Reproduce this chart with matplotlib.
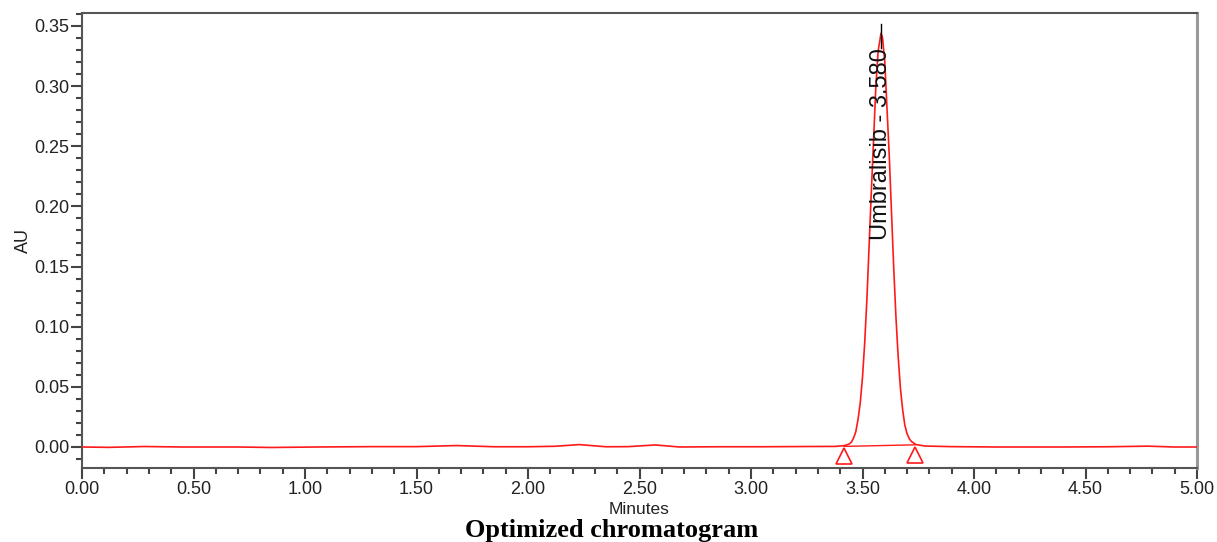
import matplotlib
matplotlib.use("Agg")
import matplotlib.pyplot as plt
from matplotlib.ticker import MultipleLocator, FormatStrFormatter

# --- data ---
time_min = [0.00, 0.12, 0.28, 0.45, 0.70, 0.85, 1.05, 1.30, 1.50, 1.68, 1.85,
            2.00, 2.12, 2.23, 2.35, 2.45, 2.57, 2.68, 2.85, 3.05, 3.25, 3.38,
            3.42, 3.44, 3.45, 3.46, 3.47, 3.48, 3.49, 3.50, 3.51, 3.52, 3.54,
            3.56, 3.57, 3.583, 3.59, 3.60, 3.62, 3.64, 3.65, 3.66, 3.67, 3.68,
            3.69, 3.70, 3.71, 3.72, 3.74, 3.78, 3.90, 4.10, 4.40, 4.60,
            4.78, 4.90, 5.00]
signal_au = [0.0000, -0.0003, 0.0004, 0.0000, 0.0000, -0.0004, 0.0000, 0.0003,
             0.0003, 0.0012, 0.0002, 0.0002, 0.0006, 0.0020, 0.0002, 0.0003,
             0.0017, 0.0000, 0.0002, 0.0002, 0.0004, 0.0005,
             0.0012, 0.0025, 0.0040, 0.0075, 0.0127, 0.023, 0.0368, 0.058, 0.087,
             0.124, 0.214, 0.300, 0.329, 0.344, 0.340, 0.320, 0.242, 0.149,
             0.108, 0.075, 0.049, 0.031, 0.018, 0.011, 0.0068, 0.0045, 0.0020,
             0.0008, 0.0003, 0.0000, 0.0000, 0.0002, 0.0007, 0.0000, 0.0000]

peak_name = "Umbralisib"
peak_rt = 3.583
peak_label = "Umbralisib - 3.580"
peak_height = 0.344
peak_start = [3.417, 0.0005]
peak_end = [3.735, 0.0018]

x_ticks = [0.00, 0.50, 1.00, 1.50, 2.00, 2.50, 3.00, 3.50, 4.00, 4.50, 5.00]
y_ticks = [0.00, 0.05, 0.10, 0.15, 0.20, 0.25, 0.30, 0.35]

W, H = 1217, 542
fig = plt.figure(figsize=(W / 100, H / 100), dpi=100)
ax = fig.add_axes([82 / W, 1 - 468 / H, (1197 - 82) / W, (468 - 13) / H])

red = "#ff1a1a"
ax.plot(time_min, signal_au, color=red, lw=1.2, zorder=3)
# baseline of integration
ax.plot([peak_start[0], peak_end[0]], [peak_start[1], peak_end[1]],
        color=red, lw=1.0, zorder=3)
# peak start / end markers
ax.plot([peak_start[0], peak_end[0]], [-0.0072, -0.0066], ls="none",
        marker="^", ms=12, mfc="white", mec=red, mew=1.2, zorder=4)
# apex label
ax.plot([peak_rt, peak_rt], [0.332, 0.3516], color="black", lw=1.0, zorder=4)
ax.text(peak_rt, 0.3315, peak_label, rotation=90, ha="center", va="top",
        fontsize=17, family="Liberation Sans", color="#111111", zorder=5)

ax.set_xlim(0, 5.0)
ax.set_ylim(-0.01746, 0.3608)
ax.set_xticks(x_ticks)
ax.set_yticks(y_ticks)
ax.xaxis.set_minor_locator(MultipleLocator(0.1))
ax.yaxis.set_minor_locator(MultipleLocator(0.01))
ax.xaxis.set_major_formatter(FormatStrFormatter("%.2f"))
ax.yaxis.set_major_formatter(FormatStrFormatter("%.2f"))

ax.tick_params(axis="both", which="major", length=8, width=1.5, color="#444444",
               labelsize=13, labelcolor="#222222", direction="out")
ax.tick_params(axis="both", which="minor", length=4.5, width=1.5, color="#444444",
               direction="out")
ax.tick_params(axis="y", which="major", pad=1)
ax.tick_params(axis="x", which="major", pad=1.5)
for lab in ax.get_xticklabels() + ax.get_yticklabels():
    lab.set_family("Liberation Sans")

for side in ["left", "bottom", "top"]:
    ax.spines[side].set_color("#555555")
    ax.spines[side].set_linewidth(1.5)
ax.spines["right"].set_color("#999999")
ax.spines["right"].set_linewidth(2.2)

ax.set_xlabel("Minutes", fontsize=12.5, family="Liberation Sans", color="#222222",
              labelpad=3)
ax.set_ylabel("AU", fontsize=13, family="Liberation Sans", color="#222222",
              labelpad=2)

fig.text(612 / W, 1 - 531 / H, "Optimized chromatogram", ha="center", va="center",
         fontsize=19, fontweight="bold", family="Liberation Serif", color="black")

fig.savefig("out.png", dpi=100)
